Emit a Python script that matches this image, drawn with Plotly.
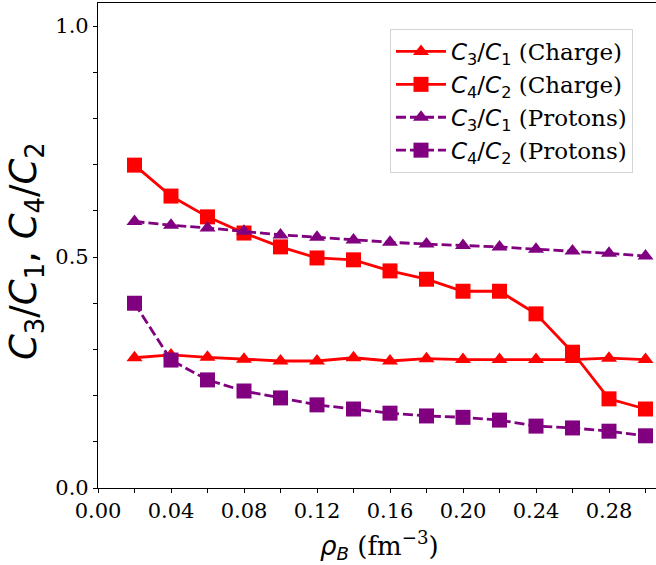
import plotly.graph_objects as go

rho_B = [0.02, 0.04, 0.06, 0.08, 0.10, 0.12, 0.14, 0.16, 0.18, 0.20, 0.22, 0.24, 0.26, 0.28, 0.30]
c31_charge = [0.282, 0.288, 0.283, 0.279, 0.275, 0.275, 0.282, 0.275, 0.280, 0.278, 0.278, 0.278, 0.278, 0.281, 0.278]
c42_charge = [0.699, 0.632, 0.587, 0.552, 0.522, 0.498, 0.494, 0.470, 0.452, 0.426, 0.426, 0.377, 0.294, 0.193, 0.171]
c31_protons = [0.577, 0.569, 0.563, 0.556, 0.548, 0.543, 0.537, 0.532, 0.528, 0.525, 0.522, 0.517, 0.513, 0.508, 0.502]
c42_protons = [0.400, 0.277, 0.234, 0.210, 0.195, 0.180, 0.171, 0.162, 0.156, 0.153, 0.147, 0.134, 0.130, 0.123, 0.113]

x_ticks = [0.00, 0.02, 0.04, 0.06, 0.08, 0.10, 0.12, 0.14, 0.16, 0.18, 0.20, 0.22, 0.24, 0.26, 0.28, 0.30]
x_ticklabels = ["0.00", "", "0.04", "", "0.08", "", "0.12", "", "0.16", "", "0.20", "", "0.24", "", "0.28", ""]
y_ticks = [0.0, 0.1, 0.2, 0.3, 0.4, 0.5, 0.6, 0.7, 0.8, 0.9, 1.0]
y_ticklabels = ["0.0", "", "", "", "", "0.5", "", "", "", "", "1.0"]

RED = "#ff0000"
PURPLE = "#800080"
SANS = "DejaVu Sans"
SERIF = "DejaVu Serif"

W, H = 656, 565
L, R, T, B = 98, 0, 3, 77
PW = W - L - R
PH = H - T - B


def ratio(a, b, tail):
    return (f'<span style="font-family:{SANS}"><i>C</i><sub>{a}</sub>/<i>C</i><sub>{b}</sub></span>'
            f' {tail}')


series = [
    (c31_charge, ratio(3, 1, "(Charge)"), RED, "solid", "triangle-up", 14),
    (c42_charge, ratio(4, 2, "(Charge)"), RED, "solid", "square", 15),
    (c31_protons, ratio(3, 1, "(Protons)"), PURPLE, "10px,4px", "triangle-up", 14),
    (c42_protons, ratio(4, 2, "(Protons)"), PURPLE, "10px,4px", "square", 15),
]

fig = go.Figure()
for ys, name, col, dash, sym, size in series:
    fig.add_trace(go.Scatter(
        x=rho_B, y=ys, name=name, mode="lines+markers",
        line=dict(color=col, width=2.8, dash=dash),
        marker=dict(symbol=sym, size=size, color=col, line=dict(width=0)),
    ))

fig.update_layout(
    width=W, height=H,
    margin=dict(l=L, r=R, t=T, b=B, autoexpand=False),
    paper_bgcolor="white", plot_bgcolor="white",
    font=dict(family=SERIF, size=20, color="black"),
    showlegend=True,
    legend=dict(
        x=(390 - L) / PW, y=1 - (29 - T) / PH, xanchor="left", yanchor="top",
        bgcolor="white", bordercolor="#d4d4d4", borderwidth=1,
        font=dict(family=SERIF, size=23, color="black"),
        tracegroupgap=0, itemwidth=50,
    ),
    xaxis=dict(
        range=[0, PW / 1825.0], tickmode="array", tickvals=x_ticks, ticktext=x_ticklabels,
        ticks="outside", ticklen=4, tickwidth=1, tickcolor="black",
        showline=True, linecolor="black", linewidth=1.2, mirror=True,
        showgrid=False, zeroline=False, automargin=False,
        tickfont=dict(family=SERIF, size=21),
    ),
    yaxis=dict(
        range=[0, 1.05], tickmode="array", tickvals=y_ticks, ticktext=y_ticklabels,
        ticks="outside", ticklen=4, tickwidth=1, tickcolor="black",
        showline=True, linecolor="black", linewidth=1.2,
        showgrid=False, zeroline=False, automargin=False,
        tickfont=dict(family=SERIF, size=21),
    ),
    annotations=[
        dict(
            text=f'<span style="font-family:{SANS}"><i>ρ</i><sub><i>B</i></sub></span> (fm<sup>−3</sup>)',
            xref="paper", yref="paper", x=(379 - L) / PW, y=-(545 - T - PH) / PH,
            xanchor="center", yanchor="middle", showarrow=False,
            font=dict(family=SERIF, size=26, color="black"),
        ),
        dict(
            text='<i>C</i><sub>3</sub>/<i>C</i><sub>1</sub>, <i>C</i><sub>4</sub>/<i>C</i><sub>2</sub>',
            xref="paper", yref="paper", x=-(L - 26) / PW, y=1 - (251 - T) / PH,
            xanchor="center", yanchor="middle", showarrow=False, textangle=-90,
            font=dict(family=SANS, size=37, color="black"),
        ),
    ],
)

fig.write_html("out.html", config={"displayModeBar": False},
               post_script="document.body.style.margin='0';")
